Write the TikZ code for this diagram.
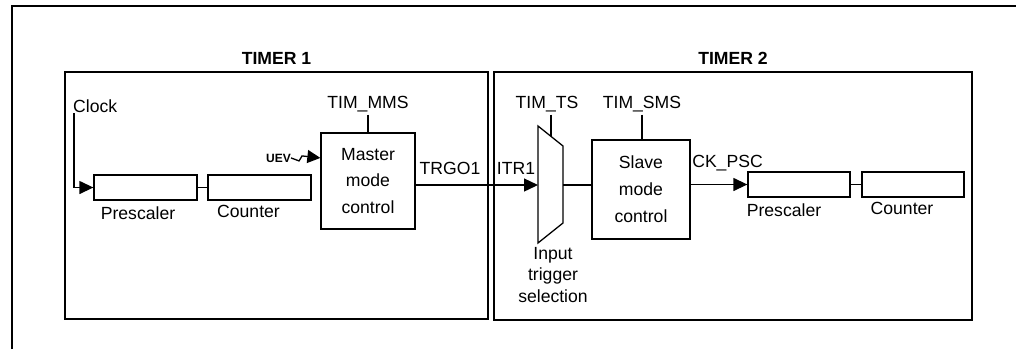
\documentclass[tikz,border=0pt]{standalone}
\usepackage{fontspec}
\setmainfont{Liberation Sans}
\usetikzlibrary{arrows.meta,calc}
\newcommand\fs{\fontsize{17.6}{21}\selectfont}
\newcommand\fsm{\fontsize{17.6}{26.5}\selectfont}
\newcommand\fss{\fontsize{17.6}{27}\selectfont}
\newcommand\fsi{\fontsize{17.6}{21.5}\selectfont}
\begin{document}
\begin{tikzpicture}[x=1pt,y=-1pt,
  every node/.style={font=\fs, inner sep=0pt},
  blk/.style={draw, line width=1.3pt, inner sep=0pt},
  frame/.style={draw, line width=1.6pt, inner sep=0pt},
  lbl/.style={inner sep=0pt, outer sep=3pt},
  wire/.style={line width=1.3pt},
  arr/.style={wire, -{Triangle[length=14pt,width=13pt]}},
]
\useasboundingbox (0,0) rectangle (1016,349);
% outer frame
\draw[line width=2pt] (12,349) -- (12,6) -- (1016,6);
% timer frames
\node[frame, minimum width=423pt, minimum height=247pt] (t1) at (276.5,195.5) {};
\node[frame, minimum width=478pt, minimum height=248pt] (t2) at (733,196) {};
\node[anchor=base, font=\fs\bfseries] (t1l) at (276.5,64) {TIMER 1};
\node[anchor=base, font=\fs\bfseries] (t2l) at (733,64) {TIMER 2};
% timer 1
\node[anchor=base west] (clock) at (73,112) {Clock};
\node[blk, minimum width=103pt, minimum height=25pt] (pre1) at (145.5,187.5) {};
\node[blk, minimum width=103pt, minimum height=25pt] (cnt1) at (259.5,187.5) {};
\draw[arr] ([xshift=1pt,yshift=-1pt]clock.base west) |- (pre1.west);
\draw[wire] (pre1) -- (cnt1);
\node[anchor=base] (pre1l) at (138,219) {Prescaler};
\node[anchor=base] (cnt1l) at (248.5,217) {Counter};
\node[blk, minimum width=94pt, minimum height=96pt, align=center, font=\fsm] (master) at (368,181) {Master\\mode\\control};
\node[lbl, anchor=base] (mms) at (368,108) {TIM\_MMS};
\draw[wire] (mms.south) -- (mms.south |- master.north);
\node[anchor=base west, font=\fontsize{12}{14}\selectfont\bfseries] (uev) at (266,162) {UEV};
\draw[wire, -{Triangle[length=13pt,width=13pt]}] (uev.east) -- ++(8,3) -- ++(3,-5) -- (uev.east -| master.west);
\node[anchor=base] (trgo) at (450,174) {TRGO1};
% timer 2
\node[anchor=base] (itr) at (516,174) {ITR1};
\coordinate (mtl) at (538,126);
\coordinate (mtr) at (563,146);
\coordinate (mbr) at (563,223);
\coordinate (mbl) at (538,243);
\coordinate (muxin) at (538,185);
\coordinate (muxout) at (563,185);
\coordinate (muxtop) at (551,136.4);
\draw[wire] (mtl) -- (mtr) -- (mbr) -- (mbl) -- cycle;
\draw[arr] (master.east |- muxin) -- (muxin);
\node[lbl, anchor=base] (ts) at (547,108) {TIM\_TS};
\draw[wire] (ts.south -| muxtop) -- (muxtop);
\node[anchor=north, align=center, font=\fsi] (its) at (553,247) {Input\\trigger\\selection};
\node[blk, minimum width=98pt, minimum height=99pt, align=center, font=\fss] (slave) at (641,189.5) {Slave\\mode\\control};
\node[lbl, anchor=base] (sms) at (642,108) {TIM\_SMS};
\draw[wire] (sms.south) -- (sms.south |- slave.north);
\draw[wire] (muxout) -- (muxout -| slave.west);
\node[anchor=base] (ck) at (727.5,167) {CK\_PSC};
\node[blk, minimum width=102pt, minimum height=25pt] (pre2) at (799,184.5) {};
\node[blk, minimum width=102pt, minimum height=25pt] (cnt2) at (913,184.5) {};
\draw[arr] (slave.east |- pre2.west) -- (pre2.west);
\draw[wire] (pre2) -- (cnt2);
\node[anchor=base] (pre2l) at (784,216) {Prescaler};
\node[anchor=base] (cnt2l) at (902,214) {Counter};
\end{tikzpicture}
\end{document}
